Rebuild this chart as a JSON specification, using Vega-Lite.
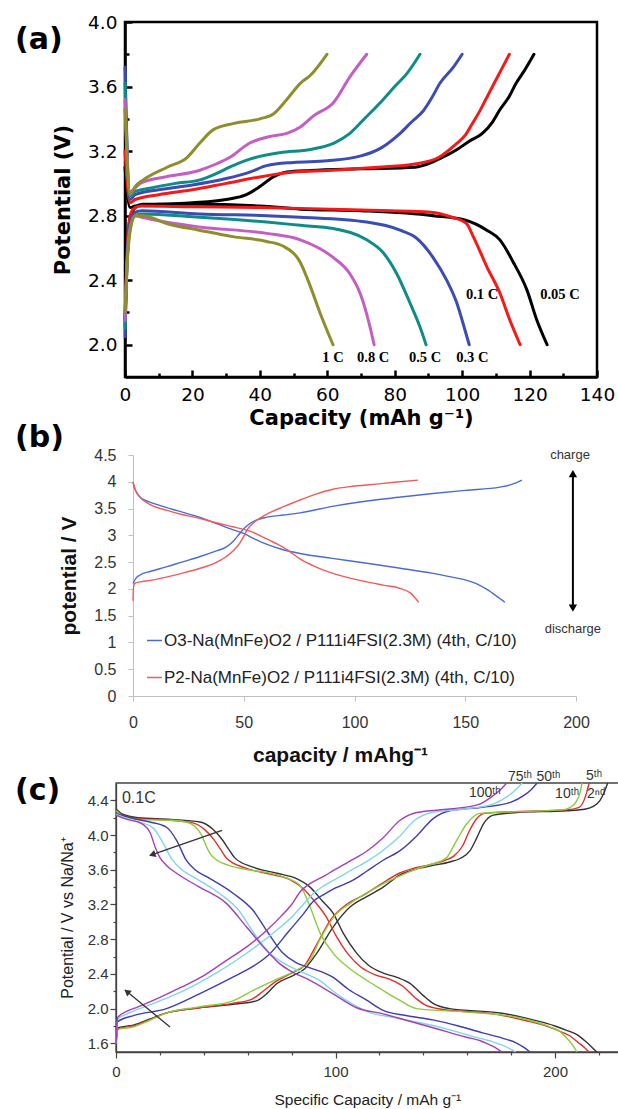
{
"$schema": "https://vega.github.io/schema/vega-lite/v6.json",
"width": 618, "height": 1109, "padding": 0, "autosize": {"type": "none"},
"background": "white",
"config": {"view": {"stroke": null}, "axis": {"grid": false, "labelFlush": false, "labelOverlap": false}, "font": "Liberation Sans"},
"datasets": {
"a": [
{"cap":0,"V":3.1,"rate":"0.05 C","seg":"c"},{"cap":1.5,"V":2.85,"rate":"0.05 C","seg":"c"},{"cap":3,"V":2.86,"rate":"0.05 C","seg":"c"},{"cap":10,"V":2.87,"rate":"0.05 C","seg":"c"},{"cap":20,"V":2.88,"rate":"0.05 C","seg":"c"},{"cap":30,"V":2.9,"rate":"0.05 C","seg":"c"},{"cap":36,"V":2.93,"rate":"0.05 C","seg":"c"},{"cap":40,"V":2.98,"rate":"0.05 C","seg":"c"},{"cap":44,"V":3.04,"rate":"0.05 C","seg":"c"},{"cap":48,"V":3.07,"rate":"0.05 C","seg":"c"},{"cap":55,"V":3.08,"rate":"0.05 C","seg":"c"},{"cap":70,"V":3.09,"rate":"0.05 C","seg":"c"},{"cap":86,"V":3.1,"rate":"0.05 C","seg":"c"},{"cap":91,"V":3.13,"rate":"0.05 C","seg":"c"},{"cap":95,"V":3.17,"rate":"0.05 C","seg":"c"},{"cap":98.5,"V":3.21,"rate":"0.05 C","seg":"c"},{"cap":102,"V":3.26,"rate":"0.05 C","seg":"c"},{"cap":106,"V":3.31,"rate":"0.05 C","seg":"c"},{"cap":109,"V":3.38,"rate":"0.05 C","seg":"c"},{"cap":111,"V":3.45,"rate":"0.05 C","seg":"c"},{"cap":114,"V":3.54,"rate":"0.05 C","seg":"c"},{"cap":116,"V":3.62,"rate":"0.05 C","seg":"c"},{"cap":118.5,"V":3.7,"rate":"0.05 C","seg":"c"},{"cap":121.3,"V":3.8,"rate":"0.05 C","seg":"c"},
{"cap":0,"V":2.15,"rate":"0.05 C","seg":"d"},{"cap":0.5,"V":2.5,"rate":"0.05 C","seg":"d"},{"cap":1.5,"V":2.78,"rate":"0.05 C","seg":"d"},{"cap":3,"V":2.85,"rate":"0.05 C","seg":"d"},{"cap":5,"V":2.87,"rate":"0.05 C","seg":"d"},{"cap":20,"V":2.87,"rate":"0.05 C","seg":"d"},{"cap":40,"V":2.86,"rate":"0.05 C","seg":"d"},{"cap":52,"V":2.84,"rate":"0.05 C","seg":"d"},{"cap":70,"V":2.83,"rate":"0.05 C","seg":"d"},{"cap":91.4,"V":2.8,"rate":"0.05 C","seg":"d"},{"cap":101.3,"V":2.77,"rate":"0.05 C","seg":"d"},{"cap":107.3,"V":2.71,"rate":"0.05 C","seg":"d"},{"cap":111.2,"V":2.65,"rate":"0.05 C","seg":"d"},{"cap":115.2,"V":2.51,"rate":"0.05 C","seg":"d"},{"cap":119.2,"V":2.34,"rate":"0.05 C","seg":"d"},{"cap":122.2,"V":2.15,"rate":"0.05 C","seg":"d"},{"cap":125.2,"V":2.0,"rate":"0.05 C","seg":"d"},
{"cap":0,"V":3.2,"rate":"0.1 C","seg":"c"},{"cap":1.5,"V":2.88,"rate":"0.1 C","seg":"c"},{"cap":3,"V":2.9,"rate":"0.1 C","seg":"c"},{"cap":10,"V":2.93,"rate":"0.1 C","seg":"c"},{"cap":20,"V":2.96,"rate":"0.1 C","seg":"c"},{"cap":30,"V":3.0,"rate":"0.1 C","seg":"c"},{"cap":40,"V":3.04,"rate":"0.1 C","seg":"c"},{"cap":50,"V":3.07,"rate":"0.1 C","seg":"c"},{"cap":60,"V":3.08,"rate":"0.1 C","seg":"c"},{"cap":75,"V":3.1,"rate":"0.1 C","seg":"c"},{"cap":86,"V":3.12,"rate":"0.1 C","seg":"c"},{"cap":93,"V":3.16,"rate":"0.1 C","seg":"c"},{"cap":98,"V":3.24,"rate":"0.1 C","seg":"c"},{"cap":101,"V":3.3,"rate":"0.1 C","seg":"c"},{"cap":103,"V":3.37,"rate":"0.1 C","seg":"c"},{"cap":105,"V":3.44,"rate":"0.1 C","seg":"c"},{"cap":107,"V":3.52,"rate":"0.1 C","seg":"c"},{"cap":109,"V":3.6,"rate":"0.1 C","seg":"c"},{"cap":111.5,"V":3.7,"rate":"0.1 C","seg":"c"},{"cap":114,"V":3.8,"rate":"0.1 C","seg":"c"},
{"cap":0,"V":2.12,"rate":"0.1 C","seg":"d"},{"cap":0.5,"V":2.5,"rate":"0.1 C","seg":"d"},{"cap":1.5,"V":2.8,"rate":"0.1 C","seg":"d"},{"cap":3,"V":2.85,"rate":"0.1 C","seg":"d"},{"cap":5,"V":2.86,"rate":"0.1 C","seg":"d"},{"cap":20,"V":2.855,"rate":"0.1 C","seg":"d"},{"cap":40,"V":2.85,"rate":"0.1 C","seg":"d"},{"cap":52,"V":2.845,"rate":"0.1 C","seg":"d"},{"cap":70,"V":2.835,"rate":"0.1 C","seg":"d"},{"cap":91.4,"V":2.82,"rate":"0.1 C","seg":"d"},{"cap":97,"V":2.79,"rate":"0.1 C","seg":"d"},{"cap":101.3,"V":2.75,"rate":"0.1 C","seg":"d"},{"cap":103.3,"V":2.67,"rate":"0.1 C","seg":"d"},{"cap":107.4,"V":2.48,"rate":"0.1 C","seg":"d"},{"cap":111.2,"V":2.32,"rate":"0.1 C","seg":"d"},{"cap":114.2,"V":2.15,"rate":"0.1 C","seg":"d"},{"cap":117.2,"V":2.0,"rate":"0.1 C","seg":"d"},
{"cap":0,"V":3.72,"rate":"0.3 C","seg":"c"},{"cap":1.5,"V":2.9,"rate":"0.3 C","seg":"c"},{"cap":3,"V":2.93,"rate":"0.3 C","seg":"c"},{"cap":10,"V":2.96,"rate":"0.3 C","seg":"c"},{"cap":20,"V":2.99,"rate":"0.3 C","seg":"c"},{"cap":30,"V":3.03,"rate":"0.3 C","seg":"c"},{"cap":37,"V":3.07,"rate":"0.3 C","seg":"c"},{"cap":42,"V":3.11,"rate":"0.3 C","seg":"c"},{"cap":50,"V":3.13,"rate":"0.3 C","seg":"c"},{"cap":60,"V":3.14,"rate":"0.3 C","seg":"c"},{"cap":70,"V":3.17,"rate":"0.3 C","seg":"c"},{"cap":76,"V":3.22,"rate":"0.3 C","seg":"c"},{"cap":81.6,"V":3.31,"rate":"0.3 C","seg":"c"},{"cap":85,"V":3.38,"rate":"0.3 C","seg":"c"},{"cap":88.5,"V":3.45,"rate":"0.3 C","seg":"c"},{"cap":91,"V":3.53,"rate":"0.3 C","seg":"c"},{"cap":93.4,"V":3.62,"rate":"0.3 C","seg":"c"},{"cap":97.4,"V":3.72,"rate":"0.3 C","seg":"c"},{"cap":100,"V":3.8,"rate":"0.3 C","seg":"c"},
{"cap":0,"V":2.05,"rate":"0.3 C","seg":"d"},{"cap":0.5,"V":2.45,"rate":"0.3 C","seg":"d"},{"cap":1.5,"V":2.75,"rate":"0.3 C","seg":"d"},{"cap":3,"V":2.82,"rate":"0.3 C","seg":"d"},{"cap":5,"V":2.83,"rate":"0.3 C","seg":"d"},{"cap":22,"V":2.81,"rate":"0.3 C","seg":"d"},{"cap":42,"V":2.8,"rate":"0.3 C","seg":"d"},{"cap":52,"V":2.79,"rate":"0.3 C","seg":"d"},{"cap":71.7,"V":2.76,"rate":"0.3 C","seg":"d"},{"cap":81.6,"V":2.71,"rate":"0.3 C","seg":"d"},{"cap":86.5,"V":2.66,"rate":"0.3 C","seg":"d"},{"cap":91.4,"V":2.54,"rate":"0.3 C","seg":"d"},{"cap":95.4,"V":2.4,"rate":"0.3 C","seg":"d"},{"cap":98.4,"V":2.26,"rate":"0.3 C","seg":"d"},{"cap":100.3,"V":2.13,"rate":"0.3 C","seg":"d"},{"cap":102.1,"V":2.0,"rate":"0.3 C","seg":"d"},
{"cap":0,"V":3.62,"rate":"0.5 C","seg":"c"},{"cap":1.5,"V":2.92,"rate":"0.5 C","seg":"c"},{"cap":3,"V":2.95,"rate":"0.5 C","seg":"c"},{"cap":7.4,"V":2.97,"rate":"0.5 C","seg":"c"},{"cap":15,"V":3.0,"rate":"0.5 C","seg":"c"},{"cap":22,"V":3.02,"rate":"0.5 C","seg":"c"},{"cap":27,"V":3.06,"rate":"0.5 C","seg":"c"},{"cap":31,"V":3.1,"rate":"0.5 C","seg":"c"},{"cap":37,"V":3.15,"rate":"0.5 C","seg":"c"},{"cap":46,"V":3.19,"rate":"0.5 C","seg":"c"},{"cap":55,"V":3.21,"rate":"0.5 C","seg":"c"},{"cap":62,"V":3.25,"rate":"0.5 C","seg":"c"},{"cap":66.7,"V":3.31,"rate":"0.5 C","seg":"c"},{"cap":71,"V":3.4,"rate":"0.5 C","seg":"c"},{"cap":76.6,"V":3.52,"rate":"0.5 C","seg":"c"},{"cap":80,"V":3.6,"rate":"0.5 C","seg":"c"},{"cap":83.6,"V":3.68,"rate":"0.5 C","seg":"c"},{"cap":87.5,"V":3.8,"rate":"0.5 C","seg":"c"},
{"cap":0,"V":2.1,"rate":"0.5 C","seg":"d"},{"cap":0.5,"V":2.45,"rate":"0.5 C","seg":"d"},{"cap":1.5,"V":2.73,"rate":"0.5 C","seg":"d"},{"cap":3,"V":2.8,"rate":"0.5 C","seg":"d"},{"cap":5,"V":2.81,"rate":"0.5 C","seg":"d"},{"cap":22,"V":2.79,"rate":"0.5 C","seg":"d"},{"cap":42,"V":2.76,"rate":"0.5 C","seg":"d"},{"cap":52,"V":2.74,"rate":"0.5 C","seg":"d"},{"cap":61.8,"V":2.72,"rate":"0.5 C","seg":"d"},{"cap":71.7,"V":2.65,"rate":"0.5 C","seg":"d"},{"cap":76.6,"V":2.57,"rate":"0.5 C","seg":"d"},{"cap":80.6,"V":2.44,"rate":"0.5 C","seg":"d"},{"cap":84.5,"V":2.26,"rate":"0.5 C","seg":"d"},{"cap":87.5,"V":2.11,"rate":"0.5 C","seg":"d"},{"cap":89.3,"V":2.0,"rate":"0.5 C","seg":"d"},
{"cap":0,"V":3.52,"rate":"0.8 C","seg":"c"},{"cap":1.5,"V":2.95,"rate":"0.8 C","seg":"c"},{"cap":4.5,"V":3.0,"rate":"0.8 C","seg":"c"},{"cap":12,"V":3.04,"rate":"0.8 C","seg":"c"},{"cap":22,"V":3.08,"rate":"0.8 C","seg":"c"},{"cap":27,"V":3.12,"rate":"0.8 C","seg":"c"},{"cap":31,"V":3.16,"rate":"0.8 C","seg":"c"},{"cap":37,"V":3.25,"rate":"0.8 C","seg":"c"},{"cap":43,"V":3.29,"rate":"0.8 C","seg":"c"},{"cap":48,"V":3.31,"rate":"0.8 C","seg":"c"},{"cap":52,"V":3.35,"rate":"0.8 C","seg":"c"},{"cap":56,"V":3.42,"rate":"0.8 C","seg":"c"},{"cap":61.8,"V":3.5,"rate":"0.8 C","seg":"c"},{"cap":66.7,"V":3.66,"rate":"0.8 C","seg":"c"},{"cap":71.7,"V":3.8,"rate":"0.8 C","seg":"c"},
{"cap":0,"V":2.15,"rate":"0.8 C","seg":"d"},{"cap":0.5,"V":2.45,"rate":"0.8 C","seg":"d"},{"cap":1.5,"V":2.72,"rate":"0.8 C","seg":"d"},{"cap":3,"V":2.8,"rate":"0.8 C","seg":"d"},{"cap":5,"V":2.79,"rate":"0.8 C","seg":"d"},{"cap":12,"V":2.76,"rate":"0.8 C","seg":"d"},{"cap":22,"V":2.73,"rate":"0.8 C","seg":"d"},{"cap":42,"V":2.69,"rate":"0.8 C","seg":"d"},{"cap":52,"V":2.65,"rate":"0.8 C","seg":"d"},{"cap":61.8,"V":2.54,"rate":"0.8 C","seg":"d"},{"cap":66.7,"V":2.44,"rate":"0.8 C","seg":"d"},{"cap":69.7,"V":2.32,"rate":"0.8 C","seg":"d"},{"cap":72.2,"V":2.15,"rate":"0.8 C","seg":"d"},{"cap":73.9,"V":2.0,"rate":"0.8 C","seg":"d"},
{"cap":0,"V":3.46,"rate":"1 C","seg":"c"},{"cap":1.5,"V":2.93,"rate":"1 C","seg":"c"},{"cap":3,"V":2.98,"rate":"1 C","seg":"c"},{"cap":5.3,"V":3.02,"rate":"1 C","seg":"c"},{"cap":12.5,"V":3.1,"rate":"1 C","seg":"c"},{"cap":18.4,"V":3.16,"rate":"1 C","seg":"c"},{"cap":22.2,"V":3.25,"rate":"1 C","seg":"c"},{"cap":26,"V":3.33,"rate":"1 C","seg":"c"},{"cap":32,"V":3.37,"rate":"1 C","seg":"c"},{"cap":40,"V":3.4,"rate":"1 C","seg":"c"},{"cap":44,"V":3.43,"rate":"1 C","seg":"c"},{"cap":48,"V":3.52,"rate":"1 C","seg":"c"},{"cap":52,"V":3.62,"rate":"1 C","seg":"c"},{"cap":55,"V":3.67,"rate":"1 C","seg":"c"},{"cap":59.9,"V":3.8,"rate":"1 C","seg":"c"},
{"cap":0,"V":2.2,"rate":"1 C","seg":"d"},{"cap":0.5,"V":2.45,"rate":"1 C","seg":"d"},{"cap":1.5,"V":2.7,"rate":"1 C","seg":"d"},{"cap":3,"V":2.8,"rate":"1 C","seg":"d"},{"cap":5.3,"V":2.8,"rate":"1 C","seg":"d"},{"cap":12.5,"V":2.75,"rate":"1 C","seg":"d"},{"cap":22,"V":2.71,"rate":"1 C","seg":"d"},{"cap":32,"V":2.67,"rate":"1 C","seg":"d"},{"cap":42,"V":2.64,"rate":"1 C","seg":"d"},{"cap":47,"V":2.61,"rate":"1 C","seg":"d"},{"cap":52,"V":2.51,"rate":"1 C","seg":"d"},{"cap":55,"V":2.36,"rate":"1 C","seg":"d"},{"cap":57.8,"V":2.2,"rate":"1 C","seg":"d"},{"cap":59.9,"V":2.09,"rate":"1 C","seg":"d"},{"cap":61.7,"V":2.0,"rate":"1 C","seg":"d"}
],
"labA": [
{"t":"0.05 C","cap":129,"V":2.31},{"t":"0.1 C","cap":105.9,"V":2.31},{"t":"1 C","cap":61.7,"V":1.92},{"t":"0.8 C","cap":73.6,"V":1.92},{"t":"0.5 C","cap":89,"V":1.92},{"t":"0.3 C","cap":103,"V":1.92}
],
"b": [
{"cap":0,"V":2.1,"cell":"O3","seg":"c"},{"cap":1,"V":2.18,"cell":"O3","seg":"c"},{"cap":3.2,"V":2.26,"cell":"O3","seg":"c"},{"cap":8,"V":2.33,"cell":"O3","seg":"c"},{"cap":15,"V":2.41,"cell":"O3","seg":"c"},{"cap":22,"V":2.5,"cell":"O3","seg":"c"},{"cap":30,"V":2.6,"cell":"O3","seg":"c"},{"cap":37,"V":2.7,"cell":"O3","seg":"c"},{"cap":42,"V":2.78,"cell":"O3","seg":"c"},{"cap":45.5,"V":2.9,"cell":"O3","seg":"c"},{"cap":48.3,"V":3.04,"cell":"O3","seg":"c"},{"cap":50.5,"V":3.14,"cell":"O3","seg":"c"},{"cap":52.8,"V":3.22,"cell":"O3","seg":"c"},{"cap":56,"V":3.29,"cell":"O3","seg":"c"},{"cap":60.5,"V":3.34,"cell":"O3","seg":"c"},{"cap":68,"V":3.38,"cell":"O3","seg":"c"},{"cap":75.4,"V":3.42,"cell":"O3","seg":"c"},{"cap":90,"V":3.54,"cell":"O3","seg":"c"},{"cap":105.6,"V":3.64,"cell":"O3","seg":"c"},{"cap":120,"V":3.71,"cell":"O3","seg":"c"},{"cap":135.4,"V":3.78,"cell":"O3","seg":"c"},{"cap":150,"V":3.84,"cell":"O3","seg":"c"},{"cap":165.7,"V":3.9,"cell":"O3","seg":"c"},{"cap":171,"V":3.95,"cell":"O3","seg":"c"},{"cap":175.6,"V":4.03,"cell":"O3","seg":"c"},
{"cap":0,"V":3.97,"cell":"O3","seg":"d"},{"cap":1,"V":3.85,"cell":"O3","seg":"d"},{"cap":3.2,"V":3.71,"cell":"O3","seg":"d"},{"cap":7,"V":3.63,"cell":"O3","seg":"d"},{"cap":12,"V":3.56,"cell":"O3","seg":"d"},{"cap":20,"V":3.46,"cell":"O3","seg":"d"},{"cap":30,"V":3.34,"cell":"O3","seg":"d"},{"cap":39,"V":3.2,"cell":"O3","seg":"d"},{"cap":44,"V":3.12,"cell":"O3","seg":"d"},{"cap":49.7,"V":3.04,"cell":"O3","seg":"d"},{"cap":55,"V":2.93,"cell":"O3","seg":"d"},{"cap":60.5,"V":2.83,"cell":"O3","seg":"d"},{"cap":67,"V":2.74,"cell":"O3","seg":"d"},{"cap":75.4,"V":2.66,"cell":"O3","seg":"d"},{"cap":90,"V":2.57,"cell":"O3","seg":"d"},{"cap":105.6,"V":2.48,"cell":"O3","seg":"d"},{"cap":120,"V":2.39,"cell":"O3","seg":"d"},{"cap":135.4,"V":2.29,"cell":"O3","seg":"d"},{"cap":145,"V":2.21,"cell":"O3","seg":"d"},{"cap":150.8,"V":2.16,"cell":"O3","seg":"d"},{"cap":155,"V":2.1,"cell":"O3","seg":"d"},{"cap":159.8,"V":1.99,"cell":"O3","seg":"d"},{"cap":164,"V":1.87,"cell":"O3","seg":"d"},{"cap":167.9,"V":1.75,"cell":"O3","seg":"d"},
{"cap":0,"V":1.78,"cell":"P2","seg":"c"},{"cap":0.3,"V":2.05,"cell":"P2","seg":"c"},{"cap":1,"V":2.11,"cell":"P2","seg":"c"},{"cap":3.2,"V":2.13,"cell":"P2","seg":"c"},{"cap":8,"V":2.16,"cell":"P2","seg":"c"},{"cap":15,"V":2.22,"cell":"P2","seg":"c"},{"cap":22,"V":2.29,"cell":"P2","seg":"c"},{"cap":30,"V":2.38,"cell":"P2","seg":"c"},{"cap":37,"V":2.48,"cell":"P2","seg":"c"},{"cap":42,"V":2.6,"cell":"P2","seg":"c"},{"cap":45.5,"V":2.72,"cell":"P2","seg":"c"},{"cap":48.3,"V":2.86,"cell":"P2","seg":"c"},{"cap":50,"V":2.98,"cell":"P2","seg":"c"},{"cap":51.5,"V":3.1,"cell":"P2","seg":"c"},{"cap":54,"V":3.22,"cell":"P2","seg":"c"},{"cap":57.3,"V":3.32,"cell":"P2","seg":"c"},{"cap":62,"V":3.43,"cell":"P2","seg":"c"},{"cap":67.7,"V":3.53,"cell":"P2","seg":"c"},{"cap":75.4,"V":3.66,"cell":"P2","seg":"c"},{"cap":82,"V":3.76,"cell":"P2","seg":"c"},{"cap":90.3,"V":3.86,"cell":"P2","seg":"c"},{"cap":98,"V":3.91,"cell":"P2","seg":"c"},{"cap":105.6,"V":3.94,"cell":"P2","seg":"c"},{"cap":118,"V":3.99,"cell":"P2","seg":"c"},{"cap":128.7,"V":4.03,"cell":"P2","seg":"c"},
{"cap":0,"V":4.0,"cell":"P2","seg":"d"},{"cap":1,"V":3.85,"cell":"P2","seg":"d"},{"cap":3.2,"V":3.71,"cell":"P2","seg":"d"},{"cap":8,"V":3.57,"cell":"P2","seg":"d"},{"cap":15,"V":3.47,"cell":"P2","seg":"d"},{"cap":22,"V":3.39,"cell":"P2","seg":"d"},{"cap":30,"V":3.32,"cell":"P2","seg":"d"},{"cap":37,"V":3.24,"cell":"P2","seg":"d"},{"cap":45,"V":3.16,"cell":"P2","seg":"d"},{"cap":50,"V":3.11,"cell":"P2","seg":"d"},{"cap":54,"V":3.06,"cell":"P2","seg":"d"},{"cap":58,"V":2.98,"cell":"P2","seg":"d"},{"cap":62,"V":2.9,"cell":"P2","seg":"d"},{"cap":65,"V":2.84,"cell":"P2","seg":"d"},{"cap":70,"V":2.72,"cell":"P2","seg":"d"},{"cap":75.4,"V":2.56,"cell":"P2","seg":"d"},{"cap":82,"V":2.42,"cell":"P2","seg":"d"},{"cap":90.3,"V":2.29,"cell":"P2","seg":"d"},{"cap":98,"V":2.2,"cell":"P2","seg":"d"},{"cap":105.6,"V":2.13,"cell":"P2","seg":"d"},{"cap":113,"V":2.07,"cell":"P2","seg":"d"},{"cap":120.5,"V":2.01,"cell":"P2","seg":"d"},{"cap":125,"V":1.93,"cell":"P2","seg":"d"},{"cap":127,"V":1.85,"cell":"P2","seg":"d"},{"cap":129,"V":1.75,"cell":"P2","seg":"d"}
],
"labB": [{"t":"charge","cap":197.3,"V":4.5},{"t":"discharge","cap":198.6,"V":1.25}],
"c": [
{"cap":0,"V":1.6,"cycle":"2nd","seg":"c"},{"cap":1,"V":1.78,"cycle":"2nd","seg":"c"},{"cap":7.9,"V":1.81,"cycle":"2nd","seg":"c"},{"cap":15.5,"V":1.88,"cycle":"2nd","seg":"c"},{"cap":23,"V":1.95,"cycle":"2nd","seg":"c"},{"cap":38,"V":2.01,"cycle":"2nd","seg":"c"},{"cap":53.3,"V":2.05,"cycle":"2nd","seg":"c"},{"cap":64,"V":2.09,"cycle":"2nd","seg":"c"},{"cap":68.6,"V":2.17,"cycle":"2nd","seg":"c"},{"cap":73.3,"V":2.29,"cycle":"2nd","seg":"c"},{"cap":80.6,"V":2.38,"cycle":"2nd","seg":"c"},{"cap":86,"V":2.46,"cycle":"2nd","seg":"c"},{"cap":91.5,"V":2.64,"cycle":"2nd","seg":"c"},{"cap":98.9,"V":2.94,"cycle":"2nd","seg":"c"},{"cap":106.6,"V":3.17,"cycle":"2nd","seg":"c"},{"cap":114.2,"V":3.29,"cycle":"2nd","seg":"c"},{"cap":121.7,"V":3.4,"cycle":"2nd","seg":"c"},{"cap":129.4,"V":3.54,"cycle":"2nd","seg":"c"},{"cap":137,"V":3.61,"cycle":"2nd","seg":"c"},{"cap":144.5,"V":3.65,"cycle":"2nd","seg":"c"},{"cap":152,"V":3.69,"cycle":"2nd","seg":"c"},{"cap":156.7,"V":3.73,"cycle":"2nd","seg":"c"},{"cap":161.3,"V":3.82,"cycle":"2nd","seg":"c"},{"cap":164.4,"V":3.97,"cycle":"2nd","seg":"c"},{"cap":167.4,"V":4.13,"cycle":"2nd","seg":"c"},{"cap":171.9,"V":4.23,"cycle":"2nd","seg":"c"},{"cap":182.6,"V":4.26,"cycle":"2nd","seg":"c"},{"cap":205.4,"V":4.28,"cycle":"2nd","seg":"c"},{"cap":214,"V":4.3,"cycle":"2nd","seg":"c"},{"cap":217.4,"V":4.33,"cycle":"2nd","seg":"c"},{"cap":220.5,"V":4.4,"cycle":"2nd","seg":"c"},{"cap":222.5,"V":4.5,"cycle":"2nd","seg":"c"},{"cap":224,"V":4.6,"cycle":"2nd","seg":"c"},
{"cap":0,"V":4.3,"cycle":"2nd","seg":"d"},{"cap":3,"V":4.24,"cycle":"2nd","seg":"d"},{"cap":10,"V":4.2,"cycle":"2nd","seg":"d"},{"cap":25,"V":4.18,"cycle":"2nd","seg":"d"},{"cap":38.3,"V":4.15,"cycle":"2nd","seg":"d"},{"cap":44,"V":4.07,"cycle":"2nd","seg":"d"},{"cap":48,"V":3.96,"cycle":"2nd","seg":"d"},{"cap":51,"V":3.85,"cycle":"2nd","seg":"d"},{"cap":54,"V":3.74,"cycle":"2nd","seg":"d"},{"cap":62.5,"V":3.63,"cycle":"2nd","seg":"d"},{"cap":73.3,"V":3.56,"cycle":"2nd","seg":"d"},{"cap":82,"V":3.5,"cycle":"2nd","seg":"d"},{"cap":88.4,"V":3.4,"cycle":"2nd","seg":"d"},{"cap":94,"V":3.24,"cycle":"2nd","seg":"d"},{"cap":98.9,"V":3.1,"cycle":"2nd","seg":"d"},{"cap":103.5,"V":2.87,"cycle":"2nd","seg":"d"},{"cap":109.6,"V":2.64,"cycle":"2nd","seg":"d"},{"cap":115,"V":2.5,"cycle":"2nd","seg":"d"},{"cap":121.7,"V":2.41,"cycle":"2nd","seg":"d"},{"cap":128,"V":2.36,"cycle":"2nd","seg":"d"},{"cap":133.9,"V":2.29,"cycle":"2nd","seg":"d"},{"cap":140,"V":2.15,"cycle":"2nd","seg":"d"},{"cap":144.4,"V":2.06,"cycle":"2nd","seg":"d"},{"cap":152,"V":2.0,"cycle":"2nd","seg":"d"},{"cap":175,"V":1.95,"cycle":"2nd","seg":"d"},{"cap":190,"V":1.87,"cycle":"2nd","seg":"d"},{"cap":200,"V":1.8,"cycle":"2nd","seg":"d"},{"cap":205.3,"V":1.75,"cycle":"2nd","seg":"d"},{"cap":210,"V":1.7,"cycle":"2nd","seg":"d"},{"cap":214,"V":1.62,"cycle":"2nd","seg":"d"},{"cap":217,"V":1.55,"cycle":"2nd","seg":"d"},{"cap":219,"V":1.5,"cycle":"2nd","seg":"d"},
{"cap":0,"V":1.6,"cycle":"5th","seg":"c"},{"cap":1,"V":1.77,"cycle":"5th","seg":"c"},{"cap":8,"V":1.8,"cycle":"5th","seg":"c"},{"cap":15,"V":1.87,"cycle":"5th","seg":"c"},{"cap":23,"V":1.95,"cycle":"5th","seg":"c"},{"cap":38,"V":2.01,"cycle":"5th","seg":"c"},{"cap":53,"V":2.06,"cycle":"5th","seg":"c"},{"cap":62,"V":2.11,"cycle":"5th","seg":"c"},{"cap":67,"V":2.2,"cycle":"5th","seg":"c"},{"cap":72,"V":2.3,"cycle":"5th","seg":"c"},{"cap":80,"V":2.41,"cycle":"5th","seg":"c"},{"cap":86,"V":2.5,"cycle":"5th","seg":"c"},{"cap":91,"V":2.72,"cycle":"5th","seg":"c"},{"cap":98,"V":3.03,"cycle":"5th","seg":"c"},{"cap":105,"V":3.2,"cycle":"5th","seg":"c"},{"cap":113,"V":3.31,"cycle":"5th","seg":"c"},{"cap":121,"V":3.44,"cycle":"5th","seg":"c"},{"cap":129,"V":3.56,"cycle":"5th","seg":"c"},{"cap":136,"V":3.62,"cycle":"5th","seg":"c"},{"cap":143,"V":3.66,"cycle":"5th","seg":"c"},{"cap":150,"V":3.71,"cycle":"5th","seg":"c"},{"cap":154,"V":3.76,"cycle":"5th","seg":"c"},{"cap":158,"V":3.88,"cycle":"5th","seg":"c"},{"cap":161,"V":4.05,"cycle":"5th","seg":"c"},{"cap":164,"V":4.18,"cycle":"5th","seg":"c"},{"cap":168,"V":4.25,"cycle":"5th","seg":"c"},{"cap":182,"V":4.27,"cycle":"5th","seg":"c"},{"cap":205,"V":4.29,"cycle":"5th","seg":"c"},{"cap":211,"V":4.32,"cycle":"5th","seg":"c"},{"cap":213.5,"V":4.42,"cycle":"5th","seg":"c"},{"cap":214.5,"V":4.5,"cycle":"5th","seg":"c"},{"cap":215.5,"V":4.6,"cycle":"5th","seg":"c"},
{"cap":0,"V":4.29,"cycle":"5th","seg":"d"},{"cap":3,"V":4.23,"cycle":"5th","seg":"d"},{"cap":10,"V":4.19,"cycle":"5th","seg":"d"},{"cap":25,"V":4.17,"cycle":"5th","seg":"d"},{"cap":35,"V":4.14,"cycle":"5th","seg":"d"},{"cap":40.5,"V":4.06,"cycle":"5th","seg":"d"},{"cap":44.5,"V":3.95,"cycle":"5th","seg":"d"},{"cap":47.5,"V":3.84,"cycle":"5th","seg":"d"},{"cap":50.5,"V":3.73,"cycle":"5th","seg":"d"},{"cap":59,"V":3.62,"cycle":"5th","seg":"d"},{"cap":70,"V":3.55,"cycle":"5th","seg":"d"},{"cap":79,"V":3.49,"cycle":"5th","seg":"d"},{"cap":85,"V":3.39,"cycle":"5th","seg":"d"},{"cap":91,"V":3.22,"cycle":"5th","seg":"d"},{"cap":95.5,"V":3.07,"cycle":"5th","seg":"d"},{"cap":100,"V":2.85,"cycle":"5th","seg":"d"},{"cap":106,"V":2.62,"cycle":"5th","seg":"d"},{"cap":111.5,"V":2.48,"cycle":"5th","seg":"d"},{"cap":118,"V":2.39,"cycle":"5th","seg":"d"},{"cap":124.5,"V":2.34,"cycle":"5th","seg":"d"},{"cap":130.5,"V":2.26,"cycle":"5th","seg":"d"},{"cap":136.5,"V":2.12,"cycle":"5th","seg":"d"},{"cap":141,"V":2.04,"cycle":"5th","seg":"d"},{"cap":149,"V":1.99,"cycle":"5th","seg":"d"},{"cap":172,"V":1.94,"cycle":"5th","seg":"d"},{"cap":187,"V":1.86,"cycle":"5th","seg":"d"},{"cap":197,"V":1.79,"cycle":"5th","seg":"d"},{"cap":202,"V":1.74,"cycle":"5th","seg":"d"},{"cap":206.5,"V":1.69,"cycle":"5th","seg":"d"},{"cap":210.5,"V":1.61,"cycle":"5th","seg":"d"},{"cap":213.5,"V":1.55,"cycle":"5th","seg":"d"},{"cap":215.5,"V":1.5,"cycle":"5th","seg":"d"},
{"cap":0,"V":1.6,"cycle":"10th","seg":"c"},{"cap":1,"V":1.76,"cycle":"10th","seg":"c"},{"cap":8,"V":1.79,"cycle":"10th","seg":"c"},{"cap":15,"V":1.86,"cycle":"10th","seg":"c"},{"cap":23,"V":1.95,"cycle":"10th","seg":"c"},{"cap":38,"V":2.02,"cycle":"10th","seg":"c"},{"cap":53.3,"V":2.09,"cycle":"10th","seg":"c"},{"cap":62.5,"V":2.21,"cycle":"10th","seg":"c"},{"cap":73.3,"V":2.34,"cycle":"10th","seg":"c"},{"cap":82,"V":2.44,"cycle":"10th","seg":"c"},{"cap":88.4,"V":2.56,"cycle":"10th","seg":"c"},{"cap":93,"V":2.8,"cycle":"10th","seg":"c"},{"cap":100,"V":3.08,"cycle":"10th","seg":"c"},{"cap":106.6,"V":3.21,"cycle":"10th","seg":"c"},{"cap":114,"V":3.33,"cycle":"10th","seg":"c"},{"cap":121,"V":3.43,"cycle":"10th","seg":"c"},{"cap":129.4,"V":3.53,"cycle":"10th","seg":"c"},{"cap":137,"V":3.61,"cycle":"10th","seg":"c"},{"cap":144.5,"V":3.67,"cycle":"10th","seg":"c"},{"cap":150.6,"V":3.74,"cycle":"10th","seg":"c"},{"cap":155.2,"V":3.94,"cycle":"10th","seg":"c"},{"cap":159.8,"V":4.13,"cycle":"10th","seg":"c"},{"cap":165.8,"V":4.25,"cycle":"10th","seg":"c"},{"cap":182.6,"V":4.27,"cycle":"10th","seg":"c"},{"cap":203,"V":4.29,"cycle":"10th","seg":"c"},{"cap":207,"V":4.32,"cycle":"10th","seg":"c"},{"cap":210,"V":4.4,"cycle":"10th","seg":"c"},{"cap":211.5,"V":4.5,"cycle":"10th","seg":"c"},{"cap":212.3,"V":4.6,"cycle":"10th","seg":"c"},
{"cap":0,"V":4.28,"cycle":"10th","seg":"d"},{"cap":3,"V":4.22,"cycle":"10th","seg":"d"},{"cap":10,"V":4.18,"cycle":"10th","seg":"d"},{"cap":25,"V":4.17,"cycle":"10th","seg":"d"},{"cap":32,"V":4.15,"cycle":"10th","seg":"d"},{"cap":36,"V":4.1,"cycle":"10th","seg":"d"},{"cap":39,"V":4.0,"cycle":"10th","seg":"d"},{"cap":41,"V":3.88,"cycle":"10th","seg":"d"},{"cap":42.8,"V":3.79,"cycle":"10th","seg":"d"},{"cap":46,"V":3.71,"cycle":"10th","seg":"d"},{"cap":50.4,"V":3.66,"cycle":"10th","seg":"d"},{"cap":60,"V":3.6,"cycle":"10th","seg":"d"},{"cap":68.6,"V":3.57,"cycle":"10th","seg":"d"},{"cap":77,"V":3.51,"cycle":"10th","seg":"d"},{"cap":83.8,"V":3.42,"cycle":"10th","seg":"d"},{"cap":88,"V":3.2,"cycle":"10th","seg":"d"},{"cap":93,"V":2.87,"cycle":"10th","seg":"d"},{"cap":98.9,"V":2.64,"cycle":"10th","seg":"d"},{"cap":106,"V":2.47,"cycle":"10th","seg":"d"},{"cap":114,"V":2.33,"cycle":"10th","seg":"d"},{"cap":121,"V":2.22,"cycle":"10th","seg":"d"},{"cap":129,"V":2.1,"cycle":"10th","seg":"d"},{"cap":137,"V":2.0,"cycle":"10th","seg":"d"},{"cap":160,"V":1.96,"cycle":"10th","seg":"d"},{"cap":182.7,"V":1.9,"cycle":"10th","seg":"d"},{"cap":192,"V":1.84,"cycle":"10th","seg":"d"},{"cap":197.7,"V":1.79,"cycle":"10th","seg":"d"},{"cap":202,"V":1.74,"cycle":"10th","seg":"d"},{"cap":205,"V":1.67,"cycle":"10th","seg":"d"},{"cap":208,"V":1.58,"cycle":"10th","seg":"d"},{"cap":210,"V":1.5,"cycle":"10th","seg":"d"},
{"cap":0,"V":1.6,"cycle":"50th","seg":"c"},{"cap":0.8,"V":1.85,"cycle":"50th","seg":"c"},{"cap":8,"V":1.92,"cycle":"50th","seg":"c"},{"cap":23,"V":2.0,"cycle":"50th","seg":"c"},{"cap":38,"V":2.17,"cycle":"50th","seg":"c"},{"cap":53,"V":2.36,"cycle":"50th","seg":"c"},{"cap":62,"V":2.48,"cycle":"50th","seg":"c"},{"cap":70,"V":2.63,"cycle":"50th","seg":"c"},{"cap":79,"V":2.9,"cycle":"50th","seg":"c"},{"cap":85,"V":3.08,"cycle":"50th","seg":"c"},{"cap":90,"V":3.24,"cycle":"50th","seg":"c"},{"cap":95,"V":3.32,"cycle":"50th","seg":"c"},{"cap":100,"V":3.39,"cycle":"50th","seg":"c"},{"cap":108,"V":3.48,"cycle":"50th","seg":"c"},{"cap":114,"V":3.58,"cycle":"50th","seg":"c"},{"cap":121.7,"V":3.71,"cycle":"50th","seg":"c"},{"cap":129.4,"V":3.82,"cycle":"50th","seg":"c"},{"cap":137,"V":3.99,"cycle":"50th","seg":"c"},{"cap":144.5,"V":4.19,"cycle":"50th","seg":"c"},{"cap":152,"V":4.28,"cycle":"50th","seg":"c"},{"cap":167,"V":4.32,"cycle":"50th","seg":"c"},{"cap":180,"V":4.38,"cycle":"50th","seg":"c"},{"cap":186,"V":4.46,"cycle":"50th","seg":"c"},{"cap":189,"V":4.52,"cycle":"50th","seg":"c"},{"cap":191.8,"V":4.6,"cycle":"50th","seg":"c"},
{"cap":0,"V":4.25,"cycle":"50th","seg":"d"},{"cap":8,"V":4.19,"cycle":"50th","seg":"d"},{"cap":15.5,"V":4.15,"cycle":"50th","seg":"d"},{"cap":23,"V":4.09,"cycle":"50th","seg":"d"},{"cap":27.6,"V":3.94,"cycle":"50th","seg":"d"},{"cap":32,"V":3.71,"cycle":"50th","seg":"d"},{"cap":36,"V":3.6,"cycle":"50th","seg":"d"},{"cap":41.3,"V":3.52,"cycle":"50th","seg":"d"},{"cap":53.3,"V":3.33,"cycle":"50th","seg":"d"},{"cap":62.5,"V":3.13,"cycle":"50th","seg":"d"},{"cap":68.6,"V":2.9,"cycle":"50th","seg":"d"},{"cap":76,"V":2.64,"cycle":"50th","seg":"d"},{"cap":82,"V":2.53,"cycle":"50th","seg":"d"},{"cap":88.4,"V":2.47,"cycle":"50th","seg":"d"},{"cap":98.9,"V":2.36,"cycle":"50th","seg":"d"},{"cap":106,"V":2.22,"cycle":"50th","seg":"d"},{"cap":114,"V":2.1,"cycle":"50th","seg":"d"},{"cap":121.7,"V":1.98,"cycle":"50th","seg":"d"},{"cap":132,"V":1.92,"cycle":"50th","seg":"d"},{"cap":144.4,"V":1.87,"cycle":"50th","seg":"d"},{"cap":156,"V":1.8,"cycle":"50th","seg":"d"},{"cap":167,"V":1.72,"cycle":"50th","seg":"d"},{"cap":176,"V":1.66,"cycle":"50th","seg":"d"},{"cap":182.7,"V":1.6,"cycle":"50th","seg":"d"},{"cap":186,"V":1.55,"cycle":"50th","seg":"d"},{"cap":188.6,"V":1.5,"cycle":"50th","seg":"d"},
{"cap":0,"V":1.6,"cycle":"75th","seg":"c"},{"cap":0.8,"V":1.88,"cycle":"75th","seg":"c"},{"cap":6,"V":1.95,"cycle":"75th","seg":"c"},{"cap":15,"V":2.04,"cycle":"75th","seg":"c"},{"cap":25,"V":2.14,"cycle":"75th","seg":"c"},{"cap":35,"V":2.26,"cycle":"75th","seg":"c"},{"cap":45,"V":2.4,"cycle":"75th","seg":"c"},{"cap":55,"V":2.56,"cycle":"75th","seg":"c"},{"cap":65,"V":2.74,"cycle":"75th","seg":"c"},{"cap":74,"V":2.92,"cycle":"75th","seg":"c"},{"cap":81,"V":3.08,"cycle":"75th","seg":"c"},{"cap":86,"V":3.22,"cycle":"75th","seg":"c"},{"cap":90,"V":3.33,"cycle":"75th","seg":"c"},{"cap":95,"V":3.42,"cycle":"75th","seg":"c"},{"cap":102,"V":3.52,"cycle":"75th","seg":"c"},{"cap":106,"V":3.58,"cycle":"75th","seg":"c"},{"cap":114,"V":3.69,"cycle":"75th","seg":"c"},{"cap":121,"V":3.81,"cycle":"75th","seg":"c"},{"cap":129,"V":3.98,"cycle":"75th","seg":"c"},{"cap":136,"V":4.17,"cycle":"75th","seg":"c"},{"cap":144,"V":4.26,"cycle":"75th","seg":"c"},{"cap":159,"V":4.3,"cycle":"75th","seg":"c"},{"cap":172,"V":4.36,"cycle":"75th","seg":"c"},{"cap":178,"V":4.44,"cycle":"75th","seg":"c"},{"cap":182,"V":4.52,"cycle":"75th","seg":"c"},{"cap":185,"V":4.6,"cycle":"75th","seg":"c"},
{"cap":0,"V":4.24,"cycle":"75th","seg":"d"},{"cap":6,"V":4.18,"cycle":"75th","seg":"d"},{"cap":12,"V":4.14,"cycle":"75th","seg":"d"},{"cap":17,"V":4.08,"cycle":"75th","seg":"d"},{"cap":21,"V":3.93,"cycle":"75th","seg":"d"},{"cap":25.5,"V":3.72,"cycle":"75th","seg":"d"},{"cap":30,"V":3.6,"cycle":"75th","seg":"d"},{"cap":35,"V":3.52,"cycle":"75th","seg":"d"},{"cap":47,"V":3.33,"cycle":"75th","seg":"d"},{"cap":56,"V":3.13,"cycle":"75th","seg":"d"},{"cap":62,"V":2.9,"cycle":"75th","seg":"d"},{"cap":70,"V":2.64,"cycle":"75th","seg":"d"},{"cap":76,"V":2.53,"cycle":"75th","seg":"d"},{"cap":82,"V":2.45,"cycle":"75th","seg":"d"},{"cap":93,"V":2.32,"cycle":"75th","seg":"d"},{"cap":100,"V":2.18,"cycle":"75th","seg":"d"},{"cap":108,"V":2.05,"cycle":"75th","seg":"d"},{"cap":115,"V":1.96,"cycle":"75th","seg":"d"},{"cap":126,"V":1.9,"cycle":"75th","seg":"d"},{"cap":138,"V":1.84,"cycle":"75th","seg":"d"},{"cap":150,"V":1.77,"cycle":"75th","seg":"d"},{"cap":161,"V":1.69,"cycle":"75th","seg":"d"},{"cap":170,"V":1.63,"cycle":"75th","seg":"d"},{"cap":176,"V":1.58,"cycle":"75th","seg":"d"},{"cap":180,"V":1.53,"cycle":"75th","seg":"d"},{"cap":182,"V":1.5,"cycle":"75th","seg":"d"},
{"cap":0,"V":1.6,"cycle":"100th","seg":"c"},{"cap":0.8,"V":1.9,"cycle":"100th","seg":"c"},{"cap":5,"V":1.97,"cycle":"100th","seg":"c"},{"cap":10,"V":2.02,"cycle":"100th","seg":"c"},{"cap":20,"V":2.13,"cycle":"100th","seg":"c"},{"cap":30,"V":2.25,"cycle":"100th","seg":"c"},{"cap":40,"V":2.38,"cycle":"100th","seg":"c"},{"cap":50,"V":2.55,"cycle":"100th","seg":"c"},{"cap":60,"V":2.72,"cycle":"100th","seg":"c"},{"cap":68.6,"V":2.9,"cycle":"100th","seg":"c"},{"cap":75,"V":3.06,"cycle":"100th","seg":"c"},{"cap":80,"V":3.2,"cycle":"100th","seg":"c"},{"cap":84,"V":3.35,"cycle":"100th","seg":"c"},{"cap":88.4,"V":3.44,"cycle":"100th","seg":"c"},{"cap":95,"V":3.53,"cycle":"100th","seg":"c"},{"cap":98.9,"V":3.59,"cycle":"100th","seg":"c"},{"cap":106.6,"V":3.7,"cycle":"100th","seg":"c"},{"cap":114,"V":3.81,"cycle":"100th","seg":"c"},{"cap":121.7,"V":3.97,"cycle":"100th","seg":"c"},{"cap":129.4,"V":4.17,"cycle":"100th","seg":"c"},{"cap":137,"V":4.26,"cycle":"100th","seg":"c"},{"cap":152,"V":4.3,"cycle":"100th","seg":"c"},{"cap":165,"V":4.35,"cycle":"100th","seg":"c"},{"cap":171,"V":4.44,"cycle":"100th","seg":"c"},{"cap":175,"V":4.52,"cycle":"100th","seg":"c"},{"cap":178,"V":4.6,"cycle":"100th","seg":"c"},
{"cap":0,"V":4.23,"cycle":"100th","seg":"d"},{"cap":5,"V":4.18,"cycle":"100th","seg":"d"},{"cap":11,"V":4.14,"cycle":"100th","seg":"d"},{"cap":15.5,"V":4.03,"cycle":"100th","seg":"d"},{"cap":18,"V":3.85,"cycle":"100th","seg":"d"},{"cap":20,"V":3.74,"cycle":"100th","seg":"d"},{"cap":23,"V":3.65,"cycle":"100th","seg":"d"},{"cap":27.6,"V":3.56,"cycle":"100th","seg":"d"},{"cap":38,"V":3.4,"cycle":"100th","seg":"d"},{"cap":50.4,"V":3.21,"cycle":"100th","seg":"d"},{"cap":59.5,"V":2.94,"cycle":"100th","seg":"d"},{"cap":68.6,"V":2.67,"cycle":"100th","seg":"d"},{"cap":74,"V":2.53,"cycle":"100th","seg":"d"},{"cap":79,"V":2.44,"cycle":"100th","seg":"d"},{"cap":88,"V":2.33,"cycle":"100th","seg":"d"},{"cap":98.9,"V":2.17,"cycle":"100th","seg":"d"},{"cap":109.6,"V":2.01,"cycle":"100th","seg":"d"},{"cap":121.7,"V":1.94,"cycle":"100th","seg":"d"},{"cap":133,"V":1.86,"cycle":"100th","seg":"d"},{"cap":144.4,"V":1.78,"cycle":"100th","seg":"d"},{"cap":159.6,"V":1.67,"cycle":"100th","seg":"d"},{"cap":166,"V":1.63,"cycle":"100th","seg":"d"},{"cap":170.4,"V":1.58,"cycle":"100th","seg":"d"},{"cap":173.5,"V":1.54,"cycle":"100th","seg":"d"},{"cap":175.9,"V":1.5,"cycle":"100th","seg":"d"}
],
"labC": [
{"t":"100ᵗʰ","cap":168,"V":4.49},{"t":"75ᵗʰ","cap":184,"V":4.67},{"t":"50ᵗʰ","cap":197,"V":4.67},{"t":"10ᵗʰ","cap":205.5,"V":4.47},{"t":"2ⁿᵈ","cap":218.7,"V":4.47},{"t":"5ᵗʰ","cap":217.8,"V":4.68}
],
"arrC": [{"cap":48.3,"V":4.055,"cap2":15.5,"V2":3.767},{"cap":24.6,"V":1.788,"cap2":4.1,"V2":2.214}]
},
"resolve": {"scale": {"x": "independent", "y": "independent", "color": "independent"}},
"layer": [
{
"layer": [
{"data": {"values": [{}]},
 "mark": {"type": "rect", "filled": false, "color": "black", "strokeWidth": 2.5},
 "encoding": {
  "x": {"datum": 0, "type": "quantitative", "scale": {"domain": [0, 140], "range": [125, 597], "nice": false, "zero": false},
   "axis": {"orient": "bottom", "offset": -732, "title": "Capacity (mAh g⁻¹)", "titleFont": "DejaVu Sans", "titleFontSize": 21, "titleFontWeight": "bold", "titleColor": "black", "titlePadding": 1,
    "values": [0,10,20,30,40,50,60,70,80,90,100,110,120,130,140], "labelExpr": "datum.value % 20 == 0 ? datum.label : ''",
    "labelFont": "DejaVu Sans", "labelFontSize": 18.5, "labelColor": "black", "labelPadding": 15,
    "tickSize": {"condition": {"test": "datum.value % 20 != 0", "value": -4}, "value": -7}, "tickColor": "black", "tickWidth": 2.5, "domainColor": "black", "domainWidth": 2.5}},
  "x2": {"datum": 140},
  "y": {"datum": 1.8, "type": "quantitative", "scale": {"domain": [1.8, 4.0], "range": [377, 22], "nice": false, "zero": false},
   "axis": {"orient": "left", "offset": -125, "title": "Potential (V)", "titleFont": "DejaVu Sans", "titleFontSize": 21, "titleFontWeight": "bold", "titleColor": "black", "titlePadding": 14,
    "values": [2.0,2.2,2.4,2.6,2.8,3.0,3.2,3.4,3.6,3.8,4.0], "labelExpr": "round(datum.value*10) % 4 == 0 ? format(datum.value, '.1f') : ''",
    "labelFont": "DejaVu Sans", "labelFontSize": 18.5, "labelColor": "black", "labelPadding": 15,
    "tickSize": {"condition": {"test": "round(datum.value*10) % 4 != 0", "value": -4}, "value": -7}, "tickColor": "black", "tickWidth": 2.5, "domainColor": "black", "domainWidth": 2.5}},
  "y2": {"datum": 4.0}
 }},
{"data": {"name": "a"},
 "mark": {"type": "line", "strokeWidth": 3, "interpolate": "monotone", "strokeCap": "round"},
 "encoding": {
  "x": {"field": "cap", "type": "quantitative", "scale": {"domain": [0, 140], "range": [125, 597], "nice": false, "zero": false}},
  "y": {"field": "V", "type": "quantitative", "scale": {"domain": [1.8, 4.0], "range": [377, 22], "nice": false, "zero": false}},
  "color": {"field": "rate", "type": "nominal", "legend": null, "scale": {"domain": ["0.05 C","0.1 C","0.3 C","0.5 C","0.8 C","1 C"], "range": ["#000000","#f41a1a","#3b4cb4","#0f8c87","#c45ec4","#8e8e2c"]}},
  "detail": {"field": "seg"}
 }},
{"data": {"name": "labA"},
 "mark": {"type": "text", "font": "Liberation Serif", "fontWeight": "bold", "fontSize": 14.5, "color": "black", "align": "center", "baseline": "middle"},
 "encoding": {
  "x": {"field": "cap", "type": "quantitative", "scale": {"domain": [0, 140], "range": [125, 597], "nice": false, "zero": false}},
  "y": {"field": "V", "type": "quantitative", "scale": {"domain": [1.8, 4.0], "range": [377, 22], "nice": false, "zero": false}},
  "text": {"field": "t"}
 }},
{"data": {"values": [{"t": "(a)"}]},
 "mark": {"type": "text", "font": "DejaVu Sans", "fontWeight": "bold", "fontSize": 30, "color": "black", "align": "left", "baseline": "middle"},
 "encoding": {
  "x": {"datum": -32.6, "type": "quantitative"},
  "y": {"datum": 3.888, "type": "quantitative"},
  "text": {"field": "t"}
 }}
]
},
{
"layer": [
{"data": {"name": "b"},
 "mark": {"type": "line", "strokeWidth": 1.4, "interpolate": "monotone"},
 "encoding": {
  "x": {"field": "cap", "type": "quantitative", "scale": {"domain": [0, 200], "range": [133, 576], "nice": false, "zero": false},
   "axis": {"orient": "bottom", "offset": -413, "title": "capacity / mAhg⁻¹", "titleFont": "Liberation Sans", "titleFontSize": 21, "titleFontWeight": "bold", "titleColor": "#111", "titlePadding": 14, "titleX": 340,
    "values": [0,50,100,150,200], "labelFont": "Liberation Sans", "labelFontSize": 16, "labelColor": "#333", "labelPadding": 13,
    "tickSize": 5, "tickColor": "#c0c0c0", "domainColor": "#c0c0c0", "tickWidth": 1, "domainWidth": 1}},
  "y": {"field": "V", "type": "quantitative", "scale": {"domain": [0, 4.5], "range": [696, 455], "nice": false, "zero": false},
   "axis": {"orient": "left", "offset": -133, "title": "potential / V", "titleFont": "Liberation Sans", "titleFontSize": 21, "titleFontWeight": "bold", "titleColor": "#111", "titlePadding": 14,
    "values": [0,0.5,1,1.5,2,2.5,3,3.5,4,4.5], "format": "~g", "labelFont": "Liberation Sans", "labelFontSize": 16, "labelColor": "#333", "labelPadding": 12,
    "tickSize": 5, "tickColor": "#c0c0c0", "domainColor": "#c0c0c0", "tickWidth": 1, "domainWidth": 1}},
  "color": {"field": "cell", "type": "nominal",
   "scale": {"domain": ["O3","P2"], "range": ["#4a6cd2","#f25a5a"]},
   "legend": {"orient": "none", "legendX": 146, "legendY": 632, "title": null, "padding": 0, "symbolType": "stroke", "symbolStrokeWidth": 1.5, "symbolSize": 225,
    "labelFont": "Liberation Sans", "labelFontSize": 17, "labelColor": "#222", "labelLimit": 600, "labelOffset": 1, "rowPadding": 19,
    "labelExpr": "datum.label == 'O3' ? 'O3-Na(MnFe)O2 / P111i4FSI(2.3M) (4th, C/10)' : 'P2-Na(MnFe)O2 / P111i4FSI(2.3M) (4th, C/10)'"}},
  "detail": {"field": "seg"}
 }},
{"data": {"name": "labB"},
 "mark": {"type": "text", "font": "Liberation Sans", "fontSize": 13, "color": "#333", "align": "center", "baseline": "middle"},
 "encoding": {
  "x": {"field": "cap", "type": "quantitative"},
  "y": {"field": "V", "type": "quantitative"},
  "text": {"field": "t"}
 }},
{"data": {"values": [{}]},
 "mark": {"type": "rule", "strokeWidth": 2, "color": "black"},
 "encoding": {
  "x": {"datum": 198.6, "type": "quantitative"},
  "y": {"datum": 1.65, "type": "quantitative"},
  "y2": {"datum": 4.14}
 }},
{"data": {"values": [{}]},
 "mark": {"type": "point", "shape": "triangle-up", "filled": true, "size": 70, "color": "black", "opacity": 1},
 "encoding": {
  "x": {"datum": 198.6, "type": "quantitative"},
  "y": {"datum": 4.15, "type": "quantitative"}
 }},
{"data": {"values": [{}]},
 "mark": {"type": "point", "shape": "triangle-down", "filled": true, "size": 70, "color": "black", "opacity": 1},
 "encoding": {
  "x": {"datum": 198.6, "type": "quantitative"},
  "y": {"datum": 1.64, "type": "quantitative"}
 }},
{"data": {"values": [{"t": "(b)"}]},
 "mark": {"type": "text", "font": "DejaVu Sans", "fontWeight": "bold", "fontSize": 30, "color": "black", "align": "left", "baseline": "middle"},
 "encoding": {
  "x": {"datum": -53.3, "type": "quantitative"},
  "y": {"datum": 4.81, "type": "quantitative"},
  "text": {"field": "t"}
 }}
]
},
{
"layer": [
{"data": {"values": [{}]},
 "mark": {"type": "rect", "filled": false, "color": "#444", "strokeWidth": 1.3},
 "encoding": {
  "x": {"datum": 0, "type": "quantitative", "scale": {"domain": [0, 229], "range": [116, 618.7], "nice": false, "zero": false},
   "axis": {"orient": "bottom", "offset": -57, "title": "Specific Capacity / mAh g⁻¹", "titleFont": "Liberation Sans", "titleFontSize": 15.5, "titleFontWeight": "normal", "titleColor": "#222", "titlePadding": 13,
    "values": [0,10,20,30,40,50,60,70,80,90,100,110,120,130,140,150,160,170,180,190,200,210,220], "labelExpr": "datum.value % 50 == 0 ? datum.label : ''",
    "labelFont": "Liberation Sans", "labelFontSize": 15, "labelColor": "#333", "labelPadding": 6,
    "tickSize": {"condition": {"test": "datum.value % 50 != 0", "value": 3}, "value": 6}, "tickColor": "#444", "domainColor": "#444", "tickWidth": 1.2, "domainWidth": 1.3}},
  "x2": {"datum": 229},
  "y": {"datum": 1.5, "type": "quantitative", "scale": {"domain": [1.5, 4.6], "range": [1052, 783], "nice": false, "zero": false},
   "axis": {"orient": "left", "offset": -116, "title": "Potential / V vs Na/Na⁺", "titleFont": "Liberation Sans", "titleFontSize": 16, "titleFontWeight": "normal", "titleColor": "#222", "titlePadding": 12,
    "values": [1.6,1.7,1.8,1.9,2.0,2.1,2.2,2.3,2.4,2.5,2.6,2.7,2.8,2.9,3.0,3.1,3.2,3.3,3.4,3.5,3.6,3.7,3.8,3.9,4.0,4.1,4.2,4.3,4.4,4.5], "labelExpr": "round(datum.value*10) % 4 == 0 ? format(datum.value, '.1f') : ''",
    "labelFont": "Liberation Sans", "labelFontSize": 15, "labelColor": "#333", "labelPadding": 2,
    "tickSize": {"condition": {"test": "round(datum.value*10) % 4 != 0", "value": 3}, "value": 6}, "tickColor": "#444", "domainColor": "#444", "tickWidth": 1.2, "domainWidth": 1.3}},
  "y2": {"datum": 4.6}
 }},
{"data": {"name": "c"},
 "mark": {"type": "line", "strokeWidth": 1.4, "interpolate": "monotone"},
 "encoding": {
  "x": {"field": "cap", "type": "quantitative", "scale": {"domain": [0, 229], "range": [116, 618.7], "nice": false, "zero": false}},
  "y": {"field": "V", "type": "quantitative", "scale": {"domain": [1.5, 4.6], "range": [1052, 783], "nice": false, "zero": false}},
  "color": {"field": "cycle", "type": "nominal", "legend": null, "scale": {"domain": ["2nd","5th","10th","50th","75th","100th"], "range": ["#333333","#e0302c","#8ccc3c","#3d3db2","#80d6e6","#a63fb6"]}},
  "detail": {"field": "seg"}
 }},
{"data": {"name": "labC"},
 "mark": {"type": "text", "font": "Liberation Sans", "fontSize": 14, "color": "#333", "align": "center", "baseline": "middle"},
 "encoding": {
  "x": {"field": "cap", "type": "quantitative"},
  "y": {"field": "V", "type": "quantitative"},
  "text": {"field": "t"}
 }},
{"data": {"values": [{"t": "0.1C"}]},
 "mark": {"type": "text", "font": "Liberation Sans", "fontSize": 16, "color": "#333", "align": "left", "baseline": "middle"},
 "encoding": {
  "x": {"datum": 2.7, "type": "quantitative"},
  "y": {"datum": 4.43, "type": "quantitative"},
  "text": {"field": "t"}
 }},
{"data": {"name": "arrC"},
 "mark": {"type": "rule", "strokeWidth": 1.3, "color": "#333"},
 "encoding": {
  "x": {"field": "cap", "type": "quantitative"},
  "y": {"field": "V", "type": "quantitative"},
  "x2": {"field": "cap2"},
  "y2": {"field": "V2"}
 }},
{"data": {"values": [{}]},
 "mark": {"type": "point", "shape": "triangle-up", "filled": true, "size": 55, "color": "#333", "opacity": 1, "angle": 251},
 "encoding": {
  "x": {"datum": 16.5, "type": "quantitative"},
  "y": {"datum": 3.775, "type": "quantitative"}
 }},
{"data": {"values": [{}]},
 "mark": {"type": "point", "shape": "triangle-up", "filled": true, "size": 55, "color": "#333", "opacity": 1, "angle": 309},
 "encoding": {
  "x": {"datum": 5.0, "type": "quantitative"},
  "y": {"datum": 2.195, "type": "quantitative"}
 }},
{"data": {"values": [{"t": "(c)"}]},
 "mark": {"type": "text", "font": "DejaVu Sans", "fontWeight": "bold", "fontSize": 30, "color": "black", "align": "left", "baseline": "middle"},
 "encoding": {
  "x": {"datum": -46, "type": "quantitative"},
  "y": {"datum": 4.504, "type": "quantitative"},
  "text": {"field": "t"}
 }}
]
}
]
}
